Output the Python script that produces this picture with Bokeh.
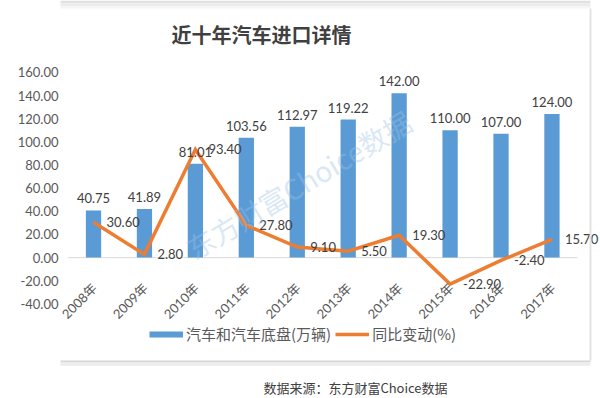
import math
from bokeh.plotting import figure
from bokeh.models import (Range1d, FixedTicker, NumeralTickFormatter, Label, Legend,
                          LegendItem, BoxAnnotation)
from bokeh.core.properties import value
from bokeh.embed import file_html
from bokeh.resources import INLINE

# ---- data ----
years = ["2008年", "2009年", "2010年", "2011年", "2012年", "2013年", "2014年", "2015年", "2016年", "2017年"]
imports = [40.75, 41.89, 81.01, 103.56, 112.97, 119.22, 142.00, 110.00, 107.00, 124.00]
yoy = [30.60, 2.80, 93.40, 27.80, 9.10, 5.50, 19.30, -22.90, -2.40, 15.70]
y_ticks = [-40, -20, 0, 20, 40, 60, 80, 100, 120, 140, 160]
title_text = "近十年汽车进口详情"
source_text = "数据来源：东方财富Choice数据"
watermark_text = "东方财富Choice数据"
bar_name = "汽车和汽车底盘(万辆)"
line_name = "同比变动(%)"

NUM_FONT = "Lato, 'Noto Sans CJK SC'"
CJK_FONT = "'Noto Sans CJK SC'"

xs = list(range(len(years)))  # category slots

p = figure(width=600, height=398, x_range=Range1d(-0.648, 9.953), y_range=Range1d(-121.7, 222.1),
           output_backend="svg", toolbar_location=None,
           min_border_left=60, min_border_right=0, min_border_top=0, min_border_bottom=0)
p.outline_line_color = None
p.grid.visible = False
p.xaxis.visible = False
p.background_fill_color = "white"
p.border_fill_color = "white"

yax = p.yaxis[0]
yax.ticker = FixedTicker(ticks=y_ticks)
yax.formatter = NumeralTickFormatter(format="0.00")
yax.axis_line_color = None
yax.major_tick_line_color = None
yax.minor_tick_line_color = None
yax.major_tick_in = 0
yax.major_tick_out = 0
yax.major_label_standoff = 2
yax.major_label_text_font = NUM_FONT
yax.major_label_text_font_size = "13px"
yax.major_label_text_color = "#595959"

# card edge / shadow
for top, bottom, col in [(222.2, 219.6, "#e2e2e2"), (219.6, 217.0, "#ececec"), (217.0, 215.2, "#f5f5f5"),
                         (-88.9, -90.6, "#d6d6d6"), (-90.6, -93.5, "#ededed")]:
    p.add_layout(BoxAnnotation(left=-1, right=9.757, top=top, bottom=bottom,
                               fill_color=col, fill_alpha=1, line_color=None))
p.add_layout(BoxAnnotation(left=9.737, right=9.776, top=215.2, bottom=-88.9,
                           fill_color="#e3e3e3", fill_alpha=1, line_color=None))

# zero (category) axis line
p.segment(x0=[xs[0] - 0.5], y0=[0], x1=[xs[-1] + 0.5], y1=[0], line_color="#d9d9d9", line_width=1)

bars = p.vbar(x=xs, top=imports, width=0.3, fill_color="#5B9BD5", line_color=None)
line_r = p.line(x=xs, y=yoy, line_color="#ED7D31", line_width=3.5, line_join="miter")
dummy = p.line(x=[float("nan")], y=[float("nan")], line_color="#5B9BD5", line_width=6)

# bar value labels
p.text(x=xs, y=imports, text=[f"{v:.2f}" for v in imports], text_align="center",
       text_baseline="alphabetic", y_offset=-12, text_font=value(NUM_FONT),
       text_font_size="13px", text_color="#404040")
# line value labels
p.text(x=xs, y=yoy, text=[f"{v:.2f}" for v in yoy], text_align="left",
       text_baseline="middle", x_offset=13, text_font=value(NUM_FONT),
       text_font_size="13px", text_color="#404040")
# category labels along the zero axis
p.text(x=xs, y=[0] * len(years), text=years, angle=math.pi / 4, text_align="right",
       text_baseline="middle", x_offset=1, y_offset=28, text_font=value(NUM_FONT),
       text_font_size="13px", text_color="#595959")

# watermark
p.add_layout(Label(x=1.865, y=6.1, text=watermark_text, angle=math.radians(31),
                   text_align="left", text_baseline="middle", text_font=CJK_FONT,
                   text_font_size="28px", text_color="#9dc3e6", text_alpha=0.4))

# title and source
p.add_layout(Label(x=3.298, y=192.8, text=title_text, text_align="center",
                   text_baseline="middle", text_font=CJK_FONT, text_font_size="20px",
                   text_font_style="bold", text_color="#404040"))
p.add_layout(Label(x=5.143, y=-111.8, text=source_text, text_align="center",
                   text_baseline="middle", text_font=CJK_FONT, text_font_size="13px",
                   text_color="#404040"))

legend = Legend(items=[LegendItem(label=bar_name, renderers=[dummy]),
                       LegendItem(label=line_name, renderers=[line_r])],
                location=(89, 54), orientation="horizontal", padding=0, margin=0,
                spacing=4, label_standoff=3, glyph_width=34, glyph_height=18,
                label_height=18, border_line_color=None, background_fill_alpha=0,
                label_text_font=CJK_FONT, label_text_font_size="15px",
                label_text_color="#595959")
p.add_layout(legend, "center")

open("out.html", "w").write(file_html(p, INLINE))
